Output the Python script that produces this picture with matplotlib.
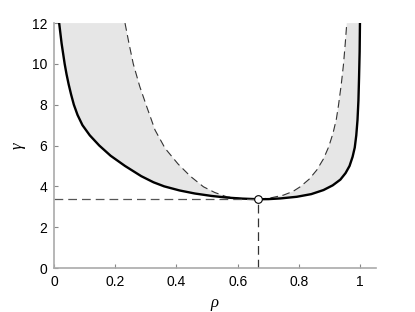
import matplotlib
matplotlib.use("Agg")
import matplotlib.pyplot as plt

# solid (outer) curve, two branches
solidLeftX = [0.017, 0.021, 0.025, 0.030, 0.035, 0.041, 0.048, 0.056, 0.065, 0.077, 0.093, 0.117, 0.148, 0.185, 0.232, 0.285,
              0.325, 0.360, 0.410, 0.460, 0.515, 0.565, 0.615, 0.667]
solidLeftY = [12.0, 11.5, 11.0, 10.5, 10.0, 9.5, 9.0, 8.5, 8.0, 7.5, 7.0, 6.5, 6.0, 5.5, 5.0, 4.5,
              4.2, 4.0, 3.8, 3.65, 3.53, 3.45, 3.40, 3.37]
solidRightX = [0.667, 0.700, 0.740, 0.793, 0.840, 0.880, 0.910, 0.935, 0.952, 0.965, 0.975, 0.982, 0.987, 0.991, 0.994,
               0.996, 0.998, 0.999]
solidRightY = [3.37, 3.375, 3.41, 3.49, 3.62, 3.82, 4.05, 4.33, 4.65, 5.0, 5.45, 5.9, 6.5, 7.25, 8.2,
               9.3, 10.6, 12.0]

# dashed (inner) curve, two branches
dashLeftX = [0.232, 0.245, 0.259, 0.280, 0.303, 0.330, 0.363, 0.405, 0.445, 0.488, 0.525, 0.564, 0.605, 0.667]
dashLeftY = [12.0, 11.0, 10.0, 8.9, 7.9, 6.76, 5.86, 5.1, 4.5, 3.98, 3.70, 3.49, 3.41, 3.37]
dashRightX = [0.667, 0.706, 0.749, 0.780, 0.804, 0.833, 0.858, 0.880, 0.897, 0.911, 0.922, 0.929, 0.938, 0.945, 0.951, 0.956]
dashRightY = [3.37, 3.43, 3.57, 3.75, 3.98, 4.35, 4.80, 5.35, 5.94, 6.6, 7.3, 7.98, 9.0, 9.94, 11.0, 12.0]

# optimum point
rhoOpt = 0.667
gammaOpt = 3.37

xTicks = [0, 0.2, 0.4, 0.6, 0.8, 1]
xTickLabels = ["0", "0.2", "0.4", "0.6", "0.8", "1"]
yTicks = [0, 2, 4, 6, 8, 10, 12]

plt.rcParams['font.family'] = ['Liberation Sans', 'DejaVu Sans']

fig = plt.figure(figsize=(4.15, 3.12), dpi=100)
ax = fig.add_axes([0.130, 0.141, 0.775, 0.785])

# grey band between the two curves
ax.fill(solidLeftX + dashLeftX[::-1], solidLeftY + dashLeftY[::-1], color="#e6e6e6", lw=0)
ax.fill(solidRightX + dashRightX[::-1], solidRightY + dashRightY[::-1], color="#e6e6e6", lw=0)

ax.plot(dashLeftX, dashLeftY, color="#333333", lw=0.8, ls=(0, (7, 4)))
ax.plot(dashRightX, dashRightY, color="#333333", lw=0.8, ls=(0, (7, 4)))
ax.plot(solidLeftX + solidRightX, solidLeftY + solidRightY, color="black", lw=1.7, solid_joinstyle="round")

# guide lines to the optimum
ax.plot([0, rhoOpt], [gammaOpt, gammaOpt], color="#555555", lw=0.9, ls=(0, (7, 4)))
ax.plot([rhoOpt, rhoOpt], [0, gammaOpt], color="#333333", lw=0.9, ls=(0, (7, 4)))
ax.plot([rhoOpt], [gammaOpt], marker="o", ms=5.5, mfc="white", mec="black", mew=0.8)

ax.set_xlim(0, 1.05)
ax.set_ylim(0, 12)
ax.set_xticks(xTicks)
ax.set_xticklabels(xTickLabels)
ax.set_yticks(yTicks)
for s in ["top", "right"]:
    ax.spines[s].set_visible(False)
for s in ["left", "bottom"]:
    ax.spines[s].set_color("#aaaaaa")
    ax.spines[s].set_linewidth(1.2)
ax.tick_params(direction="in", length=3, width=0.8, color="#888888", labelsize=10, pad=5)

ax.set_xlabel("ρ", fontfamily="Liberation Serif", fontstyle="italic", fontsize=12)
ax.set_ylabel("γ", fontfamily="Liberation Serif", fontstyle="italic", fontsize=12)

fig.savefig("out.png", dpi=100)
